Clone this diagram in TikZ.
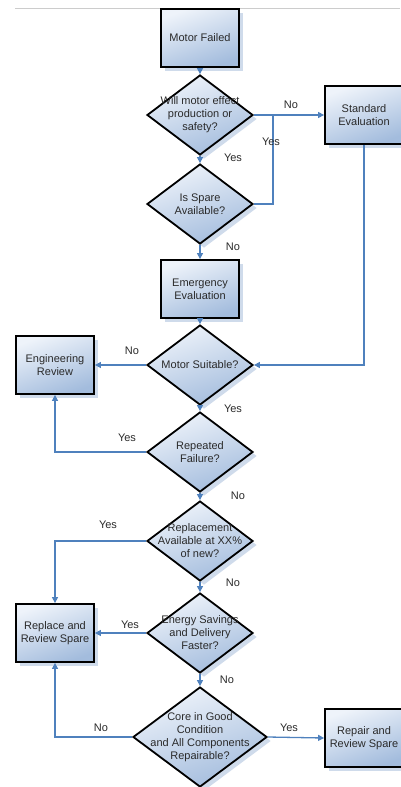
\documentclass[tikz,border=0pt]{standalone}
\usepackage{fontspec}
\setmainfont{Liberation Sans}
\usetikzlibrary{shapes.geometric,shadows,arrows.meta}
\definecolor{linkc}{HTML}{4F81BD}
\definecolor{fillA}{HTML}{EEF3FA}
\definecolor{fillB}{HTML}{A3BCDD}
\definecolor{shadowc}{HTML}{CFDBEB}
\definecolor{txt}{HTML}{2A2A2A}
\begin{document}
\begin{tikzpicture}[x=1pt,y=-1pt,
 base/.style={draw=black, line width=1.8pt, top color=fillA, bottom color=fillB, shading angle=20,
   drop shadow={shadow xshift=4pt, shadow yshift=-4pt, fill=shadowc, opacity=1}},
 box/.style={base, rectangle, minimum width=78pt, minimum height=58pt, inner sep=0pt},
 decision/.style={base, diamond, minimum width=106pt, minimum height=80pt, inner sep=0pt},
 txtnode/.style={font=\fontsize{11}{13}\selectfont, text=txt, align=center, inner sep=0pt},
 lbl/.style={font=\fontsize{11}{13}\selectfont, text=txt, inner sep=0pt},
 link/.style={draw=linkc, line width=1.3pt},
 arr/.style={link, -{Triangle[length=6pt,width=6pt]}}]
\useasboundingbox (0,0) rectangle (400,787);
\draw[gray!40, line width=0.8pt] (15,8) -- (400,8);

% boxes
\node[box] (mf) at (200,38) {};
\node[txtnode] (mft) at (mf) {Motor Failed};
\node[box] (se) at (364,115) {};
\node[txtnode] (set) at (se) {Standard\\Evaluation};
\node[box] (ee) at (200,289) {};
\node[txtnode] (eet) at (ee) {Emergency\\Evaluation};
\node[box] (er) at (55,365) {};
\node[txtnode] (ert) at (er) {Engineering\\Review};
\node[box] (rr) at (55,633) {};
\node[txtnode] (rrt) at (rr) {Replace and\\Review Spare};
\node[box] (rs) at (364,738) {};
\node[txtnode] (rst) at (rs) {Repair and\\Review Spare};

% decisions
\node[decision] (d1) at (200,115) {};
\node[txtnode] (d1t) at (d1) {Will motor effect\\production or\\safety?};
\node[decision] (d2) at (200,204) {};
\node[txtnode] (d2t) at (d2) {Is Spare\\Available?};
\node[decision] (ms) at (200,365) {};
\node[txtnode] (mst) at (ms) {Motor Suitable?};
\node[decision] (rf) at (200,452) {};
\node[txtnode] (rft) at (rf) {Repeated\\Failure?};
\node[decision] (rp) at (200,541) {};
\node[txtnode] (rpt) at (rp) {Replacement\\Available at XX\%\\of new?};
\node[decision] (es) at (200,633) {};
\node[txtnode] (est) at (es) {Energy Savings\\and Delivery\\Faster?};
\node[decision, minimum width=134pt, minimum height=100pt] (cg) at (200,737) {};
\node[txtnode] (cgt) at (cg) {Core in Good\\Condition\\and All Components\\Repairable?};

% connectors
\coordinate (j1) at (273,115);
\draw[arr] (mf.south) -- (d1.north);
\draw[arr] (d1.east) -- (se.west);
\draw[link] (d2.east) -| (j1);
\draw[arr] (d1.south) -- (d2.north);
\draw[arr] (d2.south) -- (ee.north);
\draw[arr] (ee.south) -- (ms.north);
\draw[arr] (se.south) |- (ms.east);
\draw[arr] (ms.west) -- (er.east);
\draw[arr] (ms.south) -- (rf.north);
\draw[arr] (rf.west) -| (er.south);
\draw[arr] (rf.south) -- (rp.north);
\draw[arr] (rp.west) -| (rr.north);
\draw[arr] (rp.south) -- (es.north);
\draw[arr] (es.west) -- (rr.east);
\draw[arr] (es.south) -- (cg.north);
\draw[arr] (cg.west) -| (rr.south);
\draw[arr] (cg.east) -- (rs.west);

% labels
\node[lbl] (l1) at (291,105) {No};
\node[lbl] (l2) at (271,142) {Yes};
\node[lbl] (l3) at (233,158) {Yes};
\node[lbl] (l4) at (233,247) {No};
\node[lbl] (l5) at (132,351) {No};
\node[lbl] (l6) at (233,409) {Yes};
\node[lbl] (l7) at (127,438) {Yes};
\node[lbl] (l8) at (238,496) {No};
\node[lbl] (l9) at (108,525) {Yes};
\node[lbl] (l10) at (233,583) {No};
\node[lbl] (l11) at (130,625) {Yes};
\node[lbl] (l12) at (227,680) {No};
\node[lbl] (l13) at (101,728) {No};
\node[lbl] (l14) at (289,728) {Yes};
\end{tikzpicture}
\end{document}
